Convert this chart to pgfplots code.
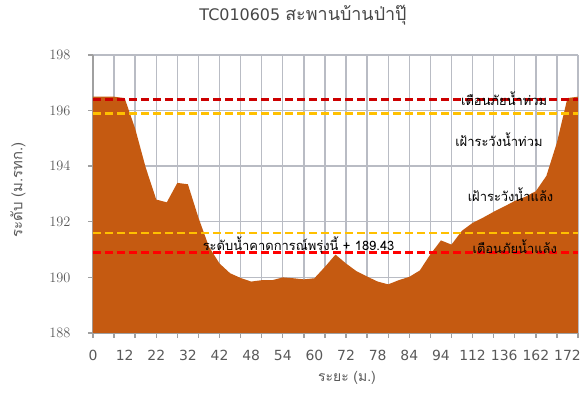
\documentclass[border=0pt]{standalone}
\usepackage{fontspec}
\usepackage{pgfplots}
\pgfplotsset{compat=1.18}
\setmainfont{DejaVu Sans}
\newfontfamily\thai[Script=Thai]{Loma}
\definecolor{fillc}{RGB}{197,90,17}
\definecolor{gridc}{RGB}{185,188,196}
\definecolor{axc}{RGB}{160,160,160}
\definecolor{tickc}{RGB}{89,89,89}
\definecolor{redA}{RGB}{204,0,0}
\definecolor{redB}{RGB}{255,0,0}
\definecolor{goldc}{RGB}{255,192,0}
\begin{document}
\begin{tikzpicture}
\begin{axis}[
 at={(0bp,0bp)}, anchor=south west,
 scale only axis, width=485bp, height=278bp,
 xmin=0, xmax=46, ymin=188, ymax=198,
 xtick={0,2,...,46}, xticklabels={},
 extra x ticks={0,3,...,45},
 extra x tick labels={0,12,22,32,42,48,54,60,72,78,84,94,112,136,162,172},
 extra x tick style={major tick length=0pt, grid=none},
 ytick={188,190,...,198},
 xmajorgrids, ymajorgrids,
 major grid style={color=gridc, line width=1.4bp},
 axis x line*=bottom, axis y line*=left,
 axis line style={color=axc, line width=1.4bp},
 tick align=outside, major tick length=5bp,
 major tick style={color=axc, line width=1.4bp},
 ticklabel style={font=\fontsize{14}{16}\selectfont, text=tickc},
 yticklabel style={xshift=-14bp},
 xticklabel style={yshift=-14bp},
]
\addplot[fill=fillc, draw=none, mark=none] coordinates {
(0,196.5) (1,196.5) (2,196.5) (3,196.45) (4,195.35) (5,193.95) (6,192.8) (7,192.7)
(8,193.4) (9,193.35) (10,192.15) (11,191.1) (12,190.5) (13,190.15) (14,189.98) (15,189.85)
(16,189.9) (17,189.9) (18,190.0) (19,189.97) (20,189.93) (21,189.97) (22,190.38) (23,190.82)
(24,190.5) (25,190.22) (26,190.03) (27,189.85) (28,189.75) (29,189.9) (30,190.02) (31,190.25)
(32,190.83) (33,191.33) (34,191.18) (35,191.68) (36,191.96) (37,192.15) (38,192.36) (39,192.55)
(40,192.75) (41,192.9) (42,193.1) (43,193.65) (44,194.85) (45,196.45) (46,196.5)
} \closedcycle;
\addplot[redA, line width=2.5bp, dash pattern=on 8bp off 4bp, mark=none] coordinates {(0,196.4) (46,196.4)};
\addplot[goldc, line width=2.5bp, dash pattern=on 8bp off 4bp, mark=none] coordinates {(0,195.9) (46,195.9)};
\addplot[goldc, line width=2.5bp, dash pattern=on 8bp off 4bp, mark=none] coordinates {(0,191.59) (46,191.59)};
\addplot[redB, line width=2.5bp, dash pattern=on 8bp off 4bp, mark=none] coordinates {(0,190.9) (46,190.9)};
\node[font=\thai\fontsize{13}{15}\selectfont] at (axis cs:39,196.42) {เตือนภัยน้ำท่วม};
\node[font=\thai\fontsize{13}{15}\selectfont] at (axis cs:38.5,194.94) {เฝ้าระวังน้ำท่วม};
\node[font=\thai\fontsize{13}{15}\selectfont] at (axis cs:39.6,192.96) {เฝ้าระวังน้ำแล้ง};
\node[font=\thai\fontsize{13}{15}\selectfont] at (axis cs:40,191.1) {เตือนภัยน้ำแล้ง};
\node[font=\thai\fontsize{13}{15}\selectfont] at (axis cs:19.5,191.17) {ระดับน้ำคาดการณ์พรุ่งนี้ + 189.43};
\end{axis}
\path (-93bp,-69bp) rectangle (494bp,333bp);
\node[text=tickc!80!black, font=\fontsize{16}{18}\selectfont] at (210bp,318bp) {TC010605 {\thai\fontsize{18}{20}\selectfont สะพานบ้านป่าปุ๊}};
\node[text=tickc, rotate=90, font=\thai\fontsize{15}{17}\selectfont] at (-75bp,143bp) {ระดับ (ม.รทก.)};
\node[text=tickc, font=\thai\fontsize{14}{16}\selectfont] at (254bp,-45bp) {ระยะ (ม.)};
\end{tikzpicture}
\end{document}
